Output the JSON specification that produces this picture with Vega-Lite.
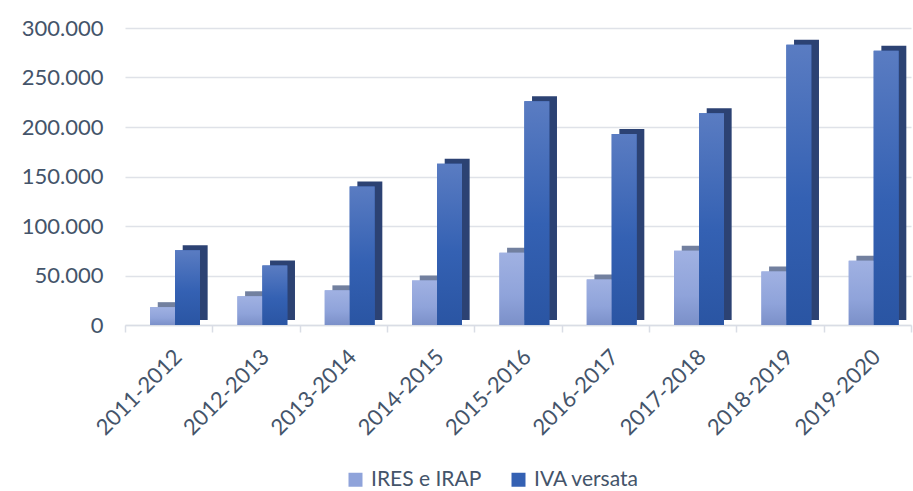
{
  "$schema": "https://vega.github.io/schema/vega-lite/v6.json",
  "width": 786,
  "height": 297,
  "autosize": {"type": "none"},
  "padding": {"left": 125, "top": 28, "right": 2, "bottom": 166},
  "background": "white",
  "config": {
    "locale": {"number": {"decimal": ",", "thousands": ".", "grouping": [3], "currency": ["€", ""]}},
    "view": {"stroke": null},
    "font": "Lato"
  },
  "data": {
    "values": [
      {"anno": "2011-2012", "serie": "IRES e IRAP", "valore": 18000},
      {"anno": "2011-2012", "serie": "IVA versata", "valore": 75500},
      {"anno": "2012-2013", "serie": "IRES e IRAP", "valore": 29000},
      {"anno": "2012-2013", "serie": "IVA versata", "valore": 60000},
      {"anno": "2013-2014", "serie": "IRES e IRAP", "valore": 35000},
      {"anno": "2013-2014", "serie": "IVA versata", "valore": 140000},
      {"anno": "2014-2015", "serie": "IRES e IRAP", "valore": 45000},
      {"anno": "2014-2015", "serie": "IVA versata", "valore": 163000},
      {"anno": "2015-2016", "serie": "IRES e IRAP", "valore": 73000},
      {"anno": "2015-2016", "serie": "IVA versata", "valore": 226000},
      {"anno": "2016-2017", "serie": "IRES e IRAP", "valore": 46000},
      {"anno": "2016-2017", "serie": "IVA versata", "valore": 193000},
      {"anno": "2017-2018", "serie": "IRES e IRAP", "valore": 75000},
      {"anno": "2017-2018", "serie": "IVA versata", "valore": 214000},
      {"anno": "2018-2019", "serie": "IRES e IRAP", "valore": 54000},
      {"anno": "2018-2019", "serie": "IVA versata", "valore": 283000},
      {"anno": "2019-2020", "serie": "IRES e IRAP", "valore": 65000},
      {"anno": "2019-2020", "serie": "IVA versata", "valore": 277000}
    ]
  },
  "encoding": {
    "x": {
      "field": "anno", "type": "nominal", "sort": null, "title": null,
      "scale": {"paddingInner": 0, "paddingOuter": 0},
      "axis": {
        "labelAngle": -45, "labelFontSize": 22, "labelColor": "#44546a", "labelPadding": 14, "labelOffset": 2,
        "tickBand": "extent", "ticks": true, "tickSize": 7, "tickColor": "#d9dde5", "tickWidth": 1.5,
        "domainColor": "#d9dde5", "domainWidth": 1.5, "grid": false
      }
    },
    "y": {
      "field": "valore", "type": "quantitative", "title": null,
      "scale": {"domain": [0, 300000], "nice": false},
      "axis": {
        "values": [0, 50000, 100000, 150000, 200000, 250000, 300000],
        "format": ",d", "labelFontSize": 22, "labelColor": "#44546a", "labelPadding": 22,
        "ticks": false, "domain": false, "gridColor": "#dfe2e8", "gridWidth": 1.5
      }
    },
    "xOffset": {"field": "serie", "sort": ["IRES e IRAP", "IVA versata"], "scale": {"domain": ["IRES e IRAP", "IVA versata"], "paddingInner": 0, "paddingOuter": 0.75, "align": 0.67}}
  },
  "layer": [
    {
      "mark": {"type": "bar", "yOffset": -5, "y2Offset": -5},
      "encoding": {
        "xOffset": {"field": "serie", "sort": ["IRES e IRAP", "IVA versata"], "scale": {"domain": ["IRES e IRAP", "IVA versata"], "paddingInner": 0, "paddingOuter": 0.75, "align": 0.875}},
        "color": {"field": "serie", "sort": ["IRES e IRAP", "IVA versata"], "legend": null, "scale": {"range": ["#72809f", "#2c4273"]}}
      }
    },
    {
      "mark": {"type": "bar"},
      "encoding": {
        "color": {
          "field": "serie", "sort": ["IRES e IRAP", "IVA versata"], "title": null,
          "scale": {"range": ["#8fa3da", "#3461b3"]},
          "legend": {
            "orient": "none", "legendX": 220, "legendY": 441, "direction": "horizontal",
            "symbolType": "square", "symbolSize": 196, "symbolStrokeWidth": 0,
            "labelFontSize": 21, "labelColor": "#44546a", "labelOffset": 5, "columnPadding": 26
          }
        }
      }
    },
    {
      "mark": {"type": "bar"},
      "encoding": {
        "color": {
          "condition": {"test": "datum.serie === 'IRES e IRAP'", "value": {"gradient": "linear", "x1": 0, "y1": 0, "x2": 0, "y2": 1, "stops": [{"offset": 0, "color": "#a0b1e2"}, {"offset": 0.6, "color": "#8fa3da"}, {"offset": 1, "color": "#7b90c9"}]}},
          "value": {"gradient": "linear", "x1": 0, "y1": 0, "x2": 0, "y2": 1, "stops": [{"offset": 0, "color": "#5a7cc2"}, {"offset": 0.55, "color": "#3461b3"}, {"offset": 1, "color": "#2a55a3"}]}
        }
      }
    }
  ],
  "resolve": {"scale": {"xOffset": "independent", "color": "independent"}}
}
